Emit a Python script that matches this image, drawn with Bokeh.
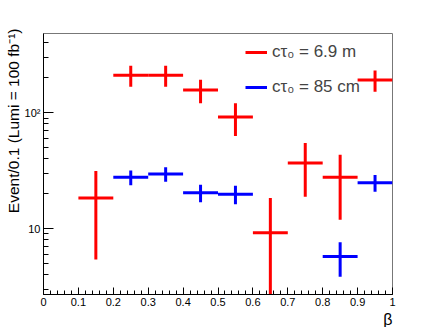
from bokeh.plotting import figure
from bokeh.models import (FixedTicker, CustomJSTickFormatter, Title, Legend,
                          LegendItem, ColumnDataSource)
from bokeh.embed import file_html
from bokeh.resources import INLINE

# ---- data ----
bin_width = 0.1
red_label = "cτ₀ = 6.9 m"
red_x = [0.15, 0.25, 0.35, 0.45, 0.55, 0.65, 0.75, 0.85, 0.95]
red_y = [18.4, 211, 211, 157, 92, 9.2, 36.8, 27.7, 192]
red_err = [13, 43, 43, 36, 29, 9.2, 18, 15.8, 40]

blue_label = "cτ₀ = 85 cm"
blue_x = [0.25, 0.35, 0.45, 0.55, 0.85, 0.95]
blue_y = [27.7, 29.6, 20.4, 19.8, 5.74, 24.9]
blue_err = [4.0, 4.2, 3.5, 3.6, 1.9, 4.1]

x_ticks = [0.0, 0.1, 0.2, 0.3, 0.4, 0.5, 0.6, 0.7, 0.8, 0.9, 1.0]
x_minor = [round(i * 0.02, 2) for i in range(51)]
y_ticks = [10, 100]
y_minor = [3, 4, 5, 6, 7, 8, 9, 20, 30, 40, 50, 60, 70, 80, 90, 200, 300, 400]

y_title = "Event/0.1 (Lumi = 100 fb⁻¹)"
x_title = "β"

FONT = "Liberation Sans"

p = figure(width=436, height=327, output_backend="svg", toolbar_location=None,
           x_range=(0, 1), y_range=(2.7, 483), y_axis_type="log",
           min_border_left=43, min_border_right=44, min_border_top=33,
           min_border_bottom=33)
p.grid.visible = False
p.outline_line_color = "#777777"
p.outline_line_width = 1
p.background_fill_color = "white"
p.border_fill_color = "white"


def cross(xs, ys, es, color):
    lo = [max(y - e, 1e-3) for y, e in zip(ys, es)]
    hi = [y + e for y, e in zip(ys, es)]
    src = ColumnDataSource(dict(x=xs, y=ys, x0=[x - bin_width / 2 for x in xs],
                                x1=[x + bin_width / 2 for x in xs], lo=lo, hi=hi))
    h = p.segment(x0="x0", y0="y", x1="x1", y1="y", source=src,
                  line_color=color, line_width=3)
    p.segment(x0="x", y0="lo", x1="x", y1="hi", source=src,
              line_color=color, line_width=3)
    return h


r_red = cross(red_x, red_y, red_err, "#ff0000")
r_blue = cross(blue_x, blue_y, blue_err, "#0000ff")

# axes
xa = p.xaxis[0]
xa.ticker = FixedTicker(ticks=x_ticks, minor_ticks=x_minor)
xa.formatter = CustomJSTickFormatter(code="return String(Number(tick.toFixed(1)));")
xa.major_tick_in = 7
xa.major_tick_out = 0
xa.minor_tick_in = 4
xa.minor_tick_out = 0
xa.major_label_standoff = 3

ya = p.yaxis[0]
ya.ticker = FixedTicker(ticks=y_ticks, minor_ticks=y_minor)
ya.formatter = CustomJSTickFormatter(
    code="return Math.abs(tick-100) < 1e-6 ? '10\u00b2' : String(Math.round(tick));")
ya.major_tick_in = 10
ya.major_tick_out = 0
ya.minor_tick_in = 5
ya.minor_tick_out = 0
ya.major_label_standoff = 3

for ax in (xa, ya):
    ax.axis_line_color = "black"
    ax.major_tick_line_color = "black"
    ax.minor_tick_line_color = "black"
    ax.major_label_text_font = FONT
    ax.major_label_text_font_size = "11px"
    ax.major_label_text_color = "black"

# axis titles (ROOT style: aligned to the axis end)
p.add_layout(Title(text=y_title, align="right", offset=-5, standoff=0,
                   text_font=FONT, text_font_size="15.5px",
                   text_font_style="normal", text_color="black"), "left")
p.add_layout(Title(text=x_title, align="right", offset=0, standoff=0,
                   text_font=FONT, text_font_size="16px",
                   text_font_style="normal", text_color="black"), "below")

legend = Legend(items=[LegendItem(label=red_label, renderers=[r_red]),
                       LegendItem(label=blue_label, renderers=[r_blue])],
                location=(202, 197), padding=0, margin=0, spacing=15,
                glyph_width=22, glyph_height=20, label_standoff=5,
                label_text_font=FONT, label_text_font_size="17px",
                border_line_alpha=0, background_fill_alpha=0)
p.add_layout(legend)

open("out.html", "w").write(file_html(p, INLINE))
